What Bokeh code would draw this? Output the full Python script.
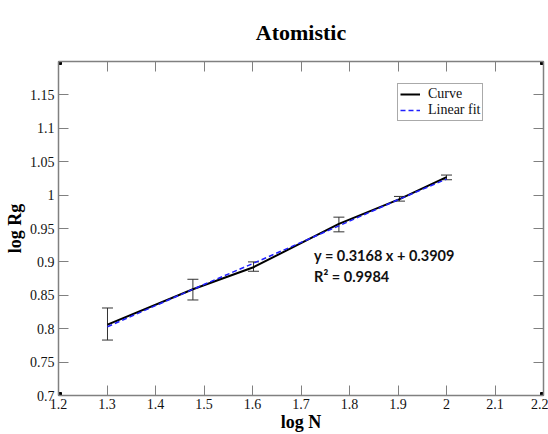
from bokeh.plotting import figure
from bokeh.models import (Range1d, LinearAxis, Whisker, ColumnDataSource, Label,
                          Legend, LegendItem, TeeHead, FixedTicker)
from bokeh.embed import file_html
from bokeh.resources import INLINE

# ---- data ----
log_n = [1.30103, 1.47712, 1.60206, 1.77815, 1.90309, 2.0]
log_rg = [0.806, 0.859, 0.892, 0.957, 0.994, 1.027]
err_low = [0.783, 0.843, 0.886, 0.945, 0.991, 1.023]
err_high = [0.831, 0.874, 0.900, 0.967, 0.998, 1.030]
fit_y = [0.803, 0.859, 0.898, 0.954, 0.994, 1.024]
x_ticks = [1.2, 1.3, 1.4, 1.5, 1.6, 1.7, 1.8, 1.9, 2.0, 2.1, 2.2]
y_ticks = [0.7, 0.75, 0.8, 0.85, 0.9, 0.95, 1.0, 1.05, 1.1, 1.15]
x_range = (1.2, 2.2)
y_range = (0.7, 1.2)
title_text = "Atomistic"
x_label = "log N"
y_label = "log Rg"
eq_text = "y = 0.3168 x + 0.3909"
r2_text = "R\u00b2 = 0.9984"

SERIF = "Liberation Serif"
AXIS_COL = "#808080"

p = figure(width=548, height=434, output_backend="svg", toolbar_location=None,
           x_range=Range1d(*x_range), y_range=Range1d(*y_range),
           min_border_left=58, min_border_right=5, min_border_top=61,
           min_border_bottom=33)

p.title.text = title_text
p.title.text_font = SERIF
p.title.text_font_size = "22px"
p.title.text_font_style = "bold"
p.title.text_color = "black"
p.title.align = "center"
p.title.vertical_align = "top"
p.title.standoff = 30

p.grid.visible = False
p.outline_line_color = AXIS_COL
p.background_fill_color = "white"
p.border_fill_color = "white"


def style_axis(ax, ticks, show_labels):
    ax.ticker = FixedTicker(ticks=ticks)
    ax.major_tick_in = 10
    ax.major_tick_out = 0
    ax.minor_tick_in = 0
    ax.minor_tick_out = 0
    ax.axis_line_color = AXIS_COL
    ax.major_tick_line_color = AXIS_COL
    ax.axis_line_width = 1.5
    ax.major_label_text_font = SERIF
    ax.major_label_text_font_size = "14px"
    ax.major_label_text_color = "#111111" if show_labels else None
    ax.major_label_standoff = 4


style_axis(p.xaxis[0], x_ticks, True)
style_axis(p.yaxis[0], y_ticks, True)
p.xaxis[0].major_label_standoff = 3
p.xaxis[0].major_label_overrides = {2.0: "2"}
p.yaxis[0].major_label_overrides = {1.0: "1"}

p.xaxis[0].axis_label = x_label
p.yaxis[0].axis_label = y_label
for ax in (p.xaxis[0], p.yaxis[0]):
    ax.axis_label_text_font = SERIF
    ax.axis_label_text_font_size = "18px"
    ax.axis_label_text_font_style = "bold"
    ax.axis_label_text_color = "black"
p.xaxis[0].axis_label_standoff = 0
p.yaxis[0].axis_label_standoff = 2

top_ax = LinearAxis()
style_axis(top_ax, x_ticks, False)
top_ax.major_label_text_font_size = "0px"
p.add_layout(top_ax, "above")
right_ax = LinearAxis()
style_axis(right_ax, y_ticks, False)
right_ax.major_label_text_font_size = "0px"
p.add_layout(right_ax, "right")

# error bars
src_err = ColumnDataSource(dict(x=log_n, lo=err_low, hi=err_high))
w = Whisker(source=src_err, base="x", lower="lo", upper="hi", dimension="height",
            line_color="#333333", line_width=1,
            upper_head=TeeHead(size=11, line_color="#333333", line_width=1),
            lower_head=TeeHead(size=11, line_color="#333333", line_width=1))
p.add_layout(w)

curve = p.line(log_n, log_rg, line_color="black", line_width=2)
fit = p.line(log_n, fit_y, line_color="#2020ff", line_width=1.5, line_dash="5 3")

# corner squares
cx = [x_range[0], x_range[1], x_range[0], x_range[1]]
cy = [y_range[0], y_range[0], y_range[1], y_range[1]]
p.scatter(cx, cy, marker="square", size=6, fill_color="black", line_color="black")

legend = Legend(items=[LegendItem(label="Curve", renderers=[curve]),
                       LegendItem(label="Linear fit", renderers=[fit])],
                location=(339, 274))
legend.label_text_font = SERIF
legend.label_text_font_size = "14px"
legend.label_text_color = "#111111"
legend.label_height = 12
legend.glyph_height = 12
legend.glyph_width = 20
legend.label_standoff = 8
legend.spacing = 0
legend.padding = 2
legend.margin = 0
legend.border_line_color = "#555555"
legend.border_line_width = 1
legend.background_fill_alpha = 1
p.add_layout(legend, "center")

p.add_layout(Label(x=1.727, y=0.909, text=eq_text, text_font="Lato",
                   text_font_size="14.5px", text_font_style="bold",
                   text_baseline="middle", text_color="#111111"))
p.add_layout(Label(x=1.727, y=0.878, text=r2_text, text_font="Lato",
                   text_font_size="14.5px", text_font_style="bold",
                   text_baseline="middle", text_color="#111111"))

open("out.html", "w").write(file_html(p, INLINE))
